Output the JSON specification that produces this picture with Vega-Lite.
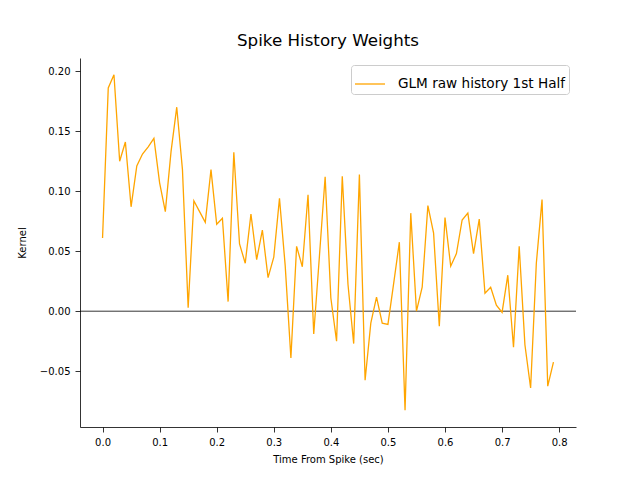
{
  "$schema": "https://vega.github.io/schema/vega-lite/v6.json",
  "width": 496,
  "height": 369,
  "autosize": {"type": "none"},
  "padding": {"left": 80, "top": 58, "right": 64, "bottom": 53},
  "background": "white",
  "config": {
    "font": "DejaVu Sans",
    "view": {"stroke": null},
    "axis": {"grid": false, "domainColor": "black", "tickColor": "black", "labelColor": "black", "titleColor": "black", "labelFontSize": 10, "titleFontSize": 10, "titleFontWeight": "normal", "tickSize": 5, "labelPadding": 5, "domainWidth": 0.8, "tickWidth": 0.8, "labelFont": "DejaVu Sans", "titleFont": "DejaVu Sans"}
  },
  "title": {"text": "Spike History Weights", "fontSize": 16.7, "fontWeight": "normal", "font": "DejaVu Sans", "color": "black", "anchor": "middle", "offset": 8},
  "layer": [
    {
      "data": {"values": [{"zero": 0}]},
      "mark": {"type": "rule", "color": "black", "strokeWidth": 0.8},
      "encoding": {"y": {"field": "zero", "type": "quantitative"}}
    },
    {
      "data": {"values": [
        {"t": 0.00, "k": 0.061}, {"t": 0.01, "k": 0.186}, {"t": 0.02, "k": 0.197}, {"t": 0.03, "k": 0.125},
        {"t": 0.04, "k": 0.141}, {"t": 0.05, "k": 0.087}, {"t": 0.06, "k": 0.121}, {"t": 0.07, "k": 0.131},
        {"t": 0.08, "k": 0.137}, {"t": 0.09, "k": 0.144}, {"t": 0.10, "k": 0.107}, {"t": 0.11, "k": 0.083},
        {"t": 0.12, "k": 0.133}, {"t": 0.13, "k": 0.170}, {"t": 0.14, "k": 0.118}, {"t": 0.15, "k": 0.003},
        {"t": 0.16, "k": 0.092}, {"t": 0.17, "k": 0.083}, {"t": 0.18, "k": 0.074}, {"t": 0.19, "k": 0.118},
        {"t": 0.20, "k": 0.0725}, {"t": 0.21, "k": 0.0775}, {"t": 0.22, "k": 0.008}, {"t": 0.23, "k": 0.1325},
        {"t": 0.24, "k": 0.056}, {"t": 0.25, "k": 0.040}, {"t": 0.26, "k": 0.081}, {"t": 0.27, "k": 0.043},
        {"t": 0.28, "k": 0.0675}, {"t": 0.29, "k": 0.028}, {"t": 0.30, "k": 0.045}, {"t": 0.31, "k": 0.094},
        {"t": 0.32, "k": 0.038}, {"t": 0.33, "k": -0.039}, {"t": 0.34, "k": 0.054}, {"t": 0.35, "k": 0.037},
        {"t": 0.36, "k": 0.097}, {"t": 0.37, "k": -0.019}, {"t": 0.38, "k": 0.046}, {"t": 0.39, "k": 0.112},
        {"t": 0.40, "k": 0.011}, {"t": 0.41, "k": -0.025}, {"t": 0.42, "k": 0.1125}, {"t": 0.43, "k": 0.0225},
        {"t": 0.44, "k": -0.027}, {"t": 0.45, "k": 0.114}, {"t": 0.46, "k": -0.0575}, {"t": 0.47, "k": -0.010},
        {"t": 0.48, "k": 0.0117}, {"t": 0.49, "k": -0.010}, {"t": 0.50, "k": -0.011}, {"t": 0.51, "k": 0.023},
        {"t": 0.52, "k": 0.0575}, {"t": 0.53, "k": -0.0825}, {"t": 0.54, "k": 0.0817}, {"t": 0.55, "k": 0.0},
        {"t": 0.56, "k": 0.020}, {"t": 0.57, "k": 0.088}, {"t": 0.58, "k": 0.065}, {"t": 0.59, "k": -0.0125},
        {"t": 0.60, "k": 0.078}, {"t": 0.61, "k": 0.0375}, {"t": 0.62, "k": 0.048}, {"t": 0.63, "k": 0.076},
        {"t": 0.64, "k": 0.0817}, {"t": 0.65, "k": 0.048}, {"t": 0.66, "k": 0.0767}, {"t": 0.67, "k": 0.015},
        {"t": 0.68, "k": 0.020}, {"t": 0.69, "k": 0.005}, {"t": 0.70, "k": -0.001}, {"t": 0.71, "k": 0.030},
        {"t": 0.72, "k": -0.030}, {"t": 0.73, "k": 0.054}, {"t": 0.74, "k": -0.028}, {"t": 0.75, "k": -0.064},
        {"t": 0.76, "k": 0.040}, {"t": 0.77, "k": 0.093}, {"t": 0.78, "k": -0.0625}, {"t": 0.79, "k": -0.0425}
      ]},
      "mark": {"type": "line", "strokeWidth": 1.3, "interpolate": "linear"},
      "encoding": {
        "x": {"field": "t", "type": "quantitative", "title": "Time From Spike (sec)",
              "scale": {"domain": [-0.0395, 0.8295], "nice": false, "zero": false},
              "axis": {"values": [0, 0.1, 0.2, 0.3, 0.4, 0.5, 0.6, 0.7, 0.8], "format": ".1f", "titlePadding": 7}},
        "y": {"field": "k", "type": "quantitative", "title": "Kernel",
              "scale": {"domain": [-0.0965, 0.211], "nice": false, "zero": false},
              "axis": {"values": [-0.05, 0, 0.05, 0.1, 0.15, 0.2], "format": ".2f", "titlePadding": 12}},
        "color": {"datum": "GLM raw history 1st Half", "type": "nominal",
                  "scale": {"range": ["orange"]},
                  "legend": {"title": null, "orient": "top-right", "offset": 7, "symbolType": "stroke", "symbolSize": 900,
                             "symbolStrokeWidth": 1.3, "labelFontSize": 13.6, "labelFont": "DejaVu Sans", "labelColor": "black", "labelLimit": 400,
                             "strokeColor": "#cccccc", "fillColor": "white", "cornerRadius": 3, "padding": 3, "labelOffset": 12}}
      }
    }
  ]
}
